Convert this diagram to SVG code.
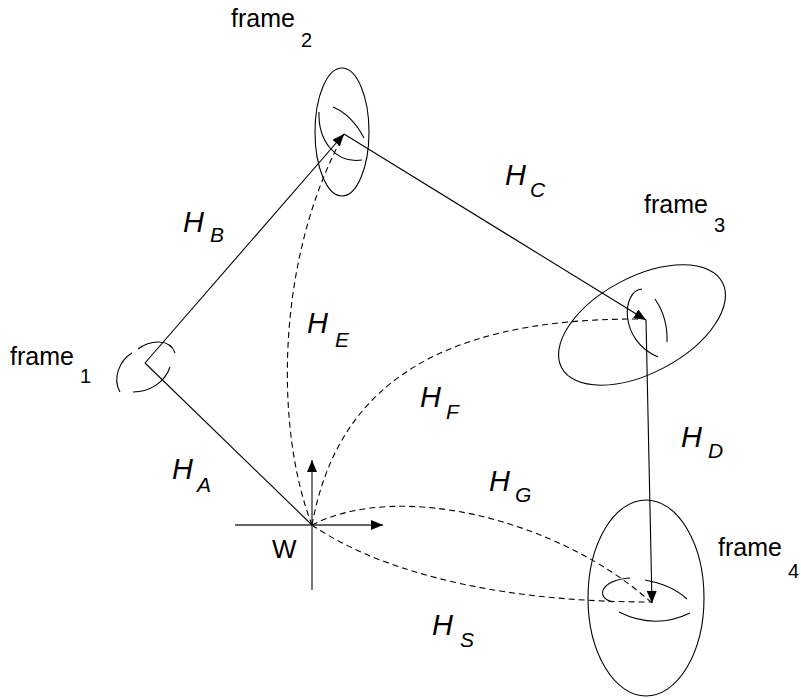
<svg xmlns="http://www.w3.org/2000/svg" width="801" height="699" viewBox="0 0 801 699">
  <style>
    .bg { fill: #ffffff; }
    .shape { fill: none; stroke: #000; stroke-width: 1.1; }
    .link { fill: none; stroke: #000; stroke-width: 1.1; }
    .dash { fill: none; stroke: #000; stroke-width: 1.1; stroke-dasharray: 6 4; }
    .axis { fill: none; stroke: #333; stroke-width: 1.3; }
    .lbl { font-family: "Liberation Sans", Arial, sans-serif; font-size: 25px; fill: #000; }
    .sub { font-family: "Liberation Sans", Arial, sans-serif; font-size: 20px; fill: #000; }
    .h { font-family: "Liberation Sans", Arial, sans-serif; font-size: 29px; font-style: italic; fill: #000; }
    .hs { font-family: "Liberation Sans", Arial, sans-serif; font-size: 21px; font-style: italic; fill: #000; }
  </style>
  <defs>
    <marker id="tri" viewBox="0 0 12 10" refX="12" refY="5" markerWidth="12" markerHeight="10" markerUnits="userSpaceOnUse" orient="auto">
      <path d="M0,0 L12,5 L0,10 z" fill="#000"/>
    </marker>
  </defs>
  <rect class="bg" x="0" y="0" width="801" height="699"/>

  <!-- frame 1 -->
  <g id="frame1">
    <path class="shape" d="M132,353 C120,360 112,378 120,392"/>
    <path class="shape" d="M138,349 C150,340 170,338 175,353"/>
    <path class="shape" d="M133,392 C150,392 165,382 170,367"/>
    <text class="lbl" x="10" y="365">frame</text>
    <text class="sub" x="80" y="383">1</text>
  </g>

  <!-- frame 2 -->
  <g id="frame2">
    <ellipse class="shape" cx="342" cy="132" rx="27" ry="64"/>
    <path class="shape" d="M319,112 C318,140 335,164 362,160"/>
    <path class="shape" d="M333,107 Q352,115 364,138"/>
    <text class="lbl" x="231" y="27">frame</text>
    <text class="sub" x="301" y="47">2</text>
  </g>

  <!-- frame 3 -->
  <g id="frame3">
    <ellipse class="shape" cx="642" cy="325" rx="91" ry="48" transform="rotate(-28 642 325)"/>
    <path class="shape" d="M642,289 C622,290 618,340 658,357"/>
    <path class="shape" d="M655,299 Q668,318 667,342"/>
    <text class="lbl" x="644" y="213">frame</text>
    <text class="sub" x="714" y="232">3</text>
  </g>

  <!-- frame 4 -->
  <g id="frame4">
    <ellipse class="shape" cx="646" cy="598" rx="58" ry="98"/>
    <path class="shape" d="M630,578 C600,580 595,598 613,602"/>
    <path class="shape" d="M645,580 Q672,585 687,599"/>
    <path class="shape" d="M619,612 Q655,630 690,613"/>
    <text class="lbl" x="718" y="556">frame</text>
    <text class="sub" x="788" y="578">4</text>
  </g>

  <!-- world frame W -->
  <g id="world">
    <line class="axis" x1="235" y1="525" x2="383" y2="525" marker-end="url(#tri)"/>
    <line class="axis" x1="312" y1="590" x2="312" y2="460" marker-end="url(#tri)"/>
    <text class="lbl" x="272" y="558" style="font-size:26px">W</text>
  </g>

  <!-- connectors -->
  <g id="connectors">
    <line class="link" x1="145" y1="363" x2="312" y2="525"/>
    <line class="link" x1="145" y1="363" x2="344" y2="134" marker-end="url(#tri)"/>
    <line class="link" x1="344" y1="134" x2="646" y2="320" marker-end="url(#tri)"/>
    <line class="link" x1="646" y1="320" x2="652" y2="603" marker-end="url(#tri)"/>
    <path class="dash" d="M312,525 C275,430 275,260 344,134"/>
    <path class="dash" d="M312,525 C335,400 420,318 640,319"/>
    <path class="dash" d="M312,525 C400,480 560,520 652,603"/>
    <path class="dash" d="M312,525 C370,565 480,602 650,602"/>
  </g>

  <!-- transform labels -->
  <g id="labels">
    <text class="h" x="183" y="232">H</text><text class="hs" x="210" y="242">B</text>
    <text class="h" x="505" y="185">H</text><text class="hs" x="530" y="197">C</text>
    <text class="h" x="307" y="333">H</text><text class="hs" x="335" y="347">E</text>
    <text class="h" x="420" y="407">H</text><text class="hs" x="446" y="419">F</text>
    <text class="h" x="681" y="447">H</text><text class="hs" x="708" y="458">D</text>
    <text class="h" x="172" y="479">H</text><text class="hs" x="197" y="492">A</text>
    <text class="h" x="489" y="491">H</text><text class="hs" x="515" y="502">G</text>
    <text class="h" x="432" y="635">H</text><text class="hs" x="460" y="647">S</text>
  </g>
</svg>
